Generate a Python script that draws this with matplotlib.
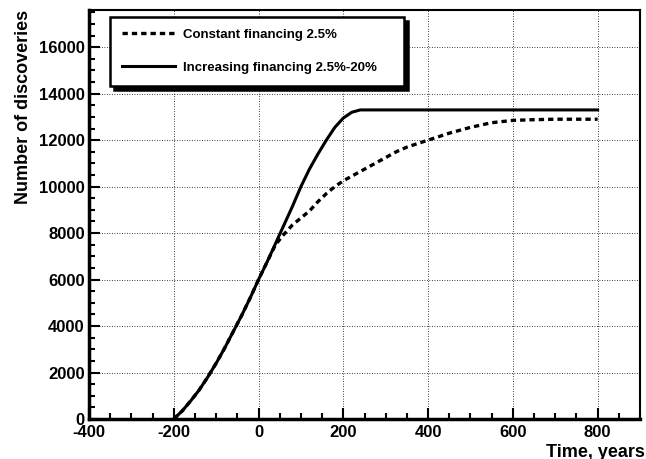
import matplotlib
matplotlib.use("Agg")
import matplotlib.pyplot as plt
from matplotlib.ticker import MultipleLocator

plt.rcParams['font.family'] = ['Liberation Sans', 'DejaVu Sans']
plt.rcParams['font.weight'] = 'bold'
plt.rcParams['axes.unicode_minus'] = False

# данные
t_increasing = [-200, -180, -160, -140, -120, -100, -80, -60, -40, -20, 0, 20, 40, 60, 80, 100,
                120, 140, 160, 180, 200, 220, 240, 400, 600, 800]
n_increasing = [0, 350, 780, 1250, 1800, 2400, 3050, 3750, 4450, 5200, 6000, 6750, 7550, 8350, 9150, 10000,
                10750, 11400, 12000, 12550, 12950, 13200, 13300, 13300, 13300, 13300]

t_constant = [-200, -180, -160, -140, -120, -100, -80, -60, -40, -20, 0, 20, 40, 60, 80, 100,
              120, 140, 160, 180, 200, 225, 250, 275, 300, 325, 350, 375, 400, 450, 500, 550, 600, 650, 700, 800]
n_constant = [0, 350, 780, 1250, 1800, 2400, 3050, 3750, 4450, 5200, 6000, 6750, 7500, 7950, 8350, 8650,
              8950, 9350, 9700, 10000, 10250, 10500, 10750, 11000, 11250, 11500, 11700, 11850, 12000, 12300,
              12550, 12750, 12850, 12880, 12900, 12900]

label_constant = "Constant financing 2.5%"
label_increasing = "Increasing financing 2.5%-20%"

fig = plt.figure(figsize=(6.46, 4.59), dpi=100)
ax = fig.add_axes([89 / 646, 1 - 419 / 459, 551 / 646, 409 / 459])

ax.plot(t_constant, n_constant, color='black', linewidth=2.4, linestyle=(0, (1.6, 1.2)), label=label_constant)
ax.plot(t_increasing, n_increasing, color='black', linewidth=2.2, label=label_increasing)

ax.set_xlim(-400, 900)
ax.set_ylim(0, 17600)
ax.xaxis.set_major_locator(MultipleLocator(200))
ax.xaxis.set_minor_locator(MultipleLocator(50))
ax.yaxis.set_major_locator(MultipleLocator(2000))
ax.yaxis.set_minor_locator(MultipleLocator(500))

ax.tick_params(which='both', direction='in', top=False, right=False, labelsize=12, width=1.5)
ax.tick_params(which='major', length=8)
ax.tick_params(which='minor', length=4)
ax.tick_params(axis='x', pad=4)
ax.tick_params(axis='y', pad=3)
for lab in ax.get_xticklabels() + ax.get_yticklabels():
    lab.set_fontweight('bold')

ax.grid(True, which='major', color='black', linestyle=(0, (1, 2)), linewidth=0.6)

for s in ['left', 'bottom']:
    ax.spines[s].set_linewidth(2.5)
for s in ['top', 'right']:
    ax.spines[s].set_linewidth(1.5)

ax.set_ylabel("Number of discoveries", fontsize=13, fontweight='bold', loc='top', labelpad=5)
ax.set_xlabel("Time, years", fontsize=13, fontweight='bold', loc='right')
ax.xaxis.set_label_coords(1.009, -0.06)
ax.xaxis.label.set_va('top')
ax.xaxis.label.set_ha('right')

leg = ax.legend(loc='upper left', bbox_to_anchor=(0.038, 0.983, 0.534, 0.0), mode='expand',
                borderaxespad=0, fancybox=False,
                shadow={'color': 'black', 'alpha': 1, 'ox': 3, 'oy': -3},
                frameon=True, fontsize=9.5, framealpha=1,
                handlelength=4.0, handletextpad=0.6, labelspacing=1.55, borderpad=0.9)
leg.get_frame().set_edgecolor('black')
leg.get_frame().set_linewidth(1.8)
for txt in leg.get_texts():
    txt.set_fontweight('bold')

fig.savefig("out.png", dpi=100)
